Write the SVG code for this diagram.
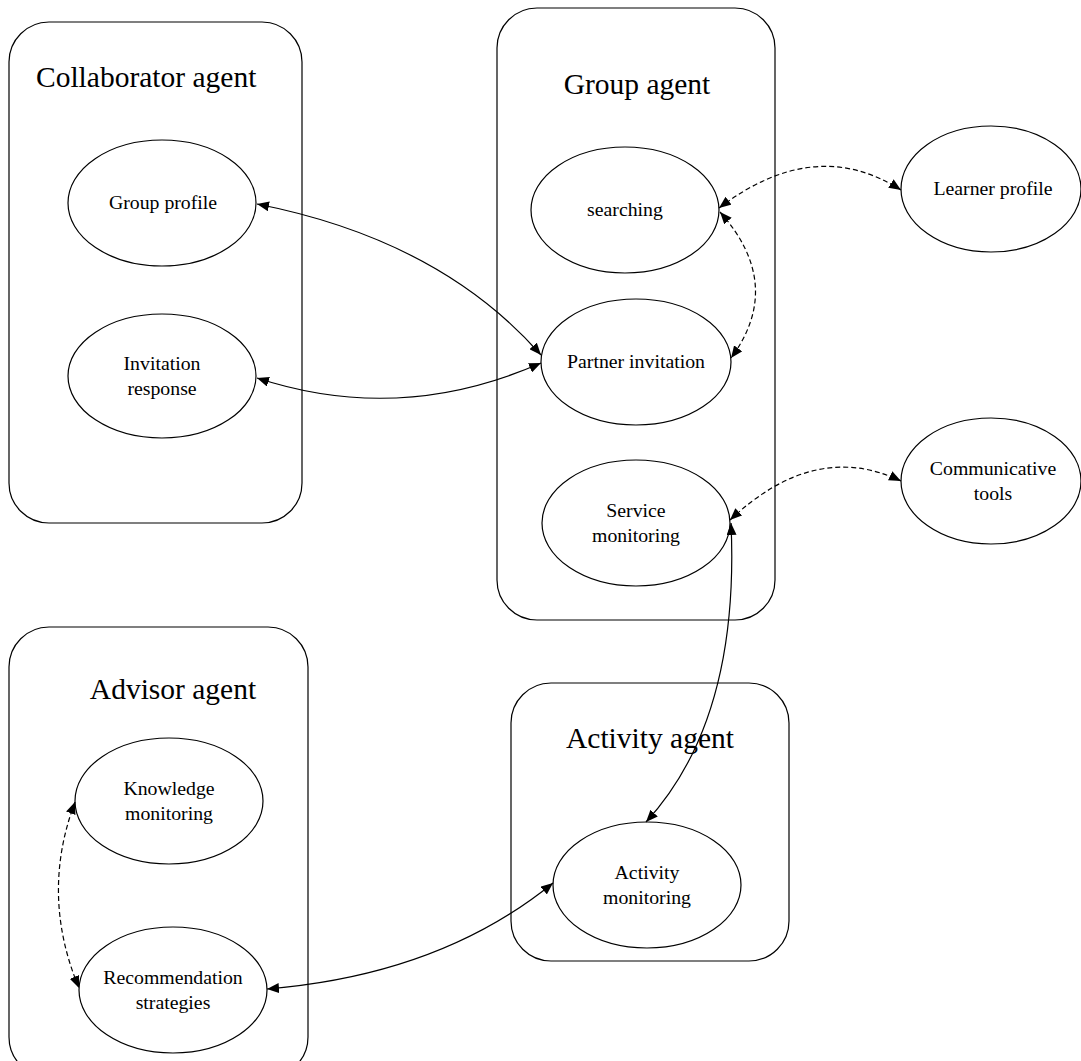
<svg xmlns="http://www.w3.org/2000/svg" width="1081" height="1061" viewBox="0 0 1081 1061">
<style>
.box{fill:none;stroke:#000;stroke-width:1.2}
.node{fill:#fff;stroke:#000;stroke-width:1.2}
.title{font-family:"Liberation Serif",serif;font-size:29.5px;fill:#000}
.lbl{font-family:"Liberation Serif",serif;font-size:19.8px;fill:#000;text-anchor:middle}
.c{fill:none;stroke:#000;stroke-width:1.2}
.d{stroke-dasharray:5,3}
</style>
<defs>
<marker id="ah" viewBox="0 0 12 10" refX="12" refY="5" markerWidth="12" markerHeight="10" markerUnits="userSpaceOnUse" orient="auto-start-reverse">
<path d="M0,0 L12,5 L0,10 Z" fill="#000"/>
</marker>
</defs>
<rect width="1081" height="1061" fill="#fff"/>
<g id="collaborator-agent">
<rect class="box" x="9" y="22" width="293" height="501" rx="40"/>
<text class="title" x="36" y="87">Collaborator agent</text>
</g>
<g id="group-agent">
<rect class="box" x="497" y="8" width="278" height="612" rx="40"/>
<text class="title" x="637" y="94" text-anchor="middle">Group agent</text>
</g>
<g id="advisor-agent">
<rect class="box" x="9" y="627" width="299" height="450" rx="40"/>
<text class="title" x="173" y="699" text-anchor="middle">Advisor agent</text>
</g>
<g id="activity-agent">
<rect class="box" x="511" y="683" width="278" height="278" rx="40"/>
<text class="title" x="650" y="748" text-anchor="middle">Activity agent</text>
</g>
<g id="group-profile">
<ellipse class="node" cx="162" cy="203" rx="94" ry="63"/>
<text class="lbl" x="163" y="209">Group profile</text>
</g>
<g id="invitation-response">
<ellipse class="node" cx="162" cy="376" rx="94" ry="62"/>
<text class="lbl" x="162" y="370">Invitation</text>
<text class="lbl" x="162" y="395">response</text>
</g>
<g id="searching">
<ellipse class="node" cx="625" cy="210" rx="94" ry="63"/>
<text class="lbl" x="625" y="216">searching</text>
</g>
<g id="partner-invitation">
<ellipse class="node" cx="636" cy="362" rx="95" ry="63"/>
<text class="lbl" x="636" y="368">Partner invitation</text>
</g>
<g id="service-monitoring">
<ellipse class="node" cx="636" cy="523" rx="94" ry="63"/>
<text class="lbl" x="636" y="517">Service</text>
<text class="lbl" x="636" y="542">monitoring</text>
</g>
<g id="learner-profile">
<ellipse class="node" cx="991" cy="189" rx="90" ry="63"/>
<text class="lbl" x="993" y="195">Learner profile</text>
</g>
<g id="communicative-tools">
<ellipse class="node" cx="991" cy="481" rx="90" ry="63"/>
<text class="lbl" x="993" y="475">Communicative</text>
<text class="lbl" x="993" y="500">tools</text>
</g>
<g id="knowledge-monitoring">
<ellipse class="node" cx="169" cy="801" rx="94" ry="63"/>
<text class="lbl" x="169" y="795">Knowledge</text>
<text class="lbl" x="169" y="820">monitoring</text>
</g>
<g id="recommendation-strategies">
<ellipse class="node" cx="173" cy="990" rx="94" ry="63"/>
<text class="lbl" x="173" y="984">Recommendation</text>
<text class="lbl" x="173" y="1009">strategies</text>
</g>
<g id="activity-monitoring">
<ellipse class="node" cx="647" cy="885" rx="94" ry="63"/>
<text class="lbl" x="647" y="879">Activity</text>
<text class="lbl" x="647" y="904">monitoring</text>
</g>
<g id="connectors">
<path class="c" d="M257,204 Q440,240 541,355" marker-start="url(#ah)" marker-end="url(#ah)"/>
<path class="c" d="M257,378 Q400,425 541,363" marker-start="url(#ah)" marker-end="url(#ah)"/>
<path class="c d" d="M719,208 Q815,135 901,190" marker-start="url(#ah)" marker-end="url(#ah)"/>
<path class="c d" d="M720,212 Q785,285 731,358" marker-start="url(#ah)" marker-end="url(#ah)"/>
<path class="c d" d="M730,520 Q815,440 901,481" marker-start="url(#ah)" marker-end="url(#ah)"/>
<path class="c" d="M731,523 Q740,720 646,822" marker-start="url(#ah)" marker-end="url(#ah)"/>
<path class="c d" d="M75,802 Q40,895 79,988" marker-start="url(#ah)" marker-end="url(#ah)"/>
<path class="c" d="M267,989 Q440,975 553,883" marker-start="url(#ah)" marker-end="url(#ah)"/>
</g>
</svg>
